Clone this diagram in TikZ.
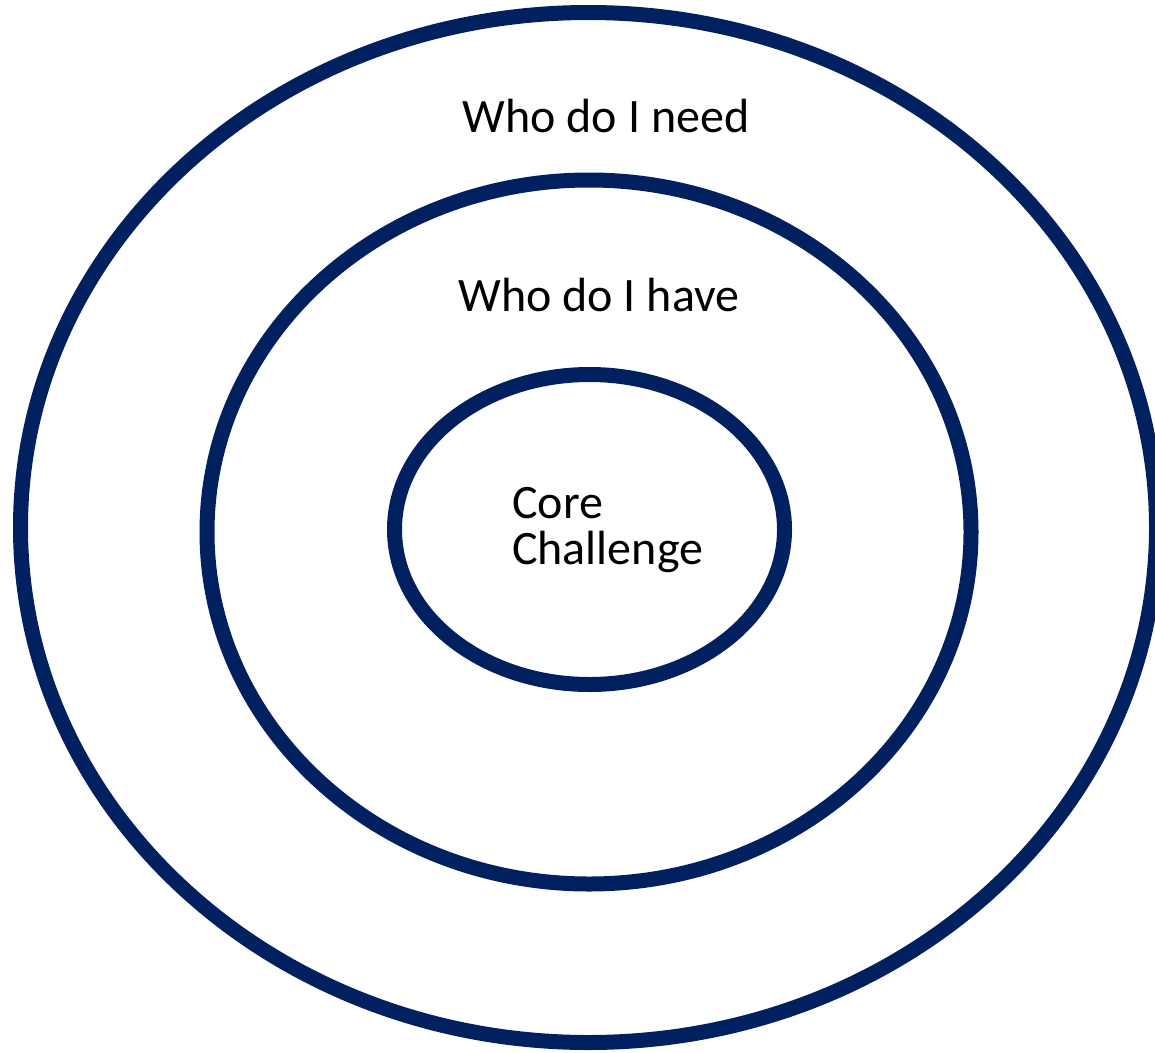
\documentclass[tikz,border=0pt]{standalone}
\usepackage{fontspec}
\setmainfont{Carlito}
\definecolor{navy}{HTML}{002060}
\begin{document}
\begin{tikzpicture}[x=1pt,y=-1pt,
  ring/.style={draw=navy,line width=15pt},
  lbl/.style={font=\fontsize{48}{46}\selectfont,inner sep=0pt,text=black}]
\useasboundingbox (0,0) rectangle (1155,1052);
\draw[ring] (588.5,527.5) ellipse [x radius=568,y radius=515];
\draw[ring] (589,532) ellipse [x radius=382,y radius=352];
\draw[ring] (589.5,529.5) ellipse [x radius=195,y radius=155];
\node[lbl,anchor=base] (need) at (606,132) {Who do I need};
\node[lbl,anchor=base] (have) at (599,311) {Who do I have};
\node[lbl,anchor=base west] (core) at (512,518) {Core};
\node[lbl,anchor=base west] (chal) at (512,564) {Challenge};
\end{tikzpicture}
\end{document}
